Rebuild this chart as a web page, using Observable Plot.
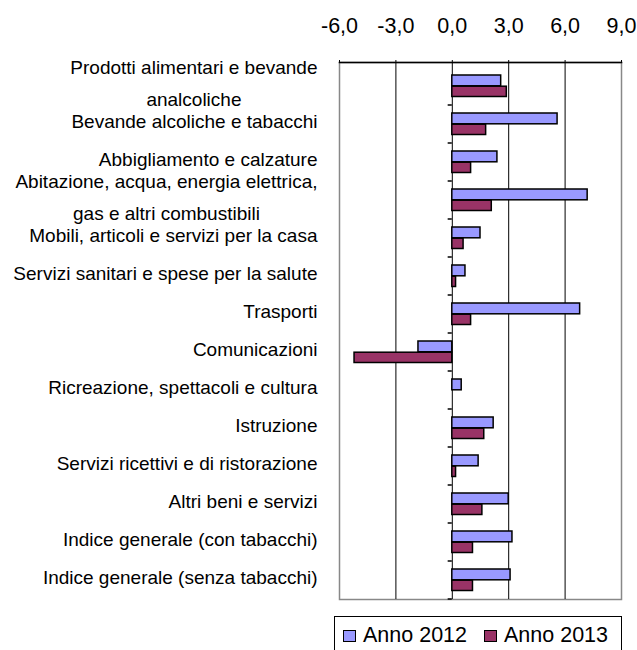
<!DOCTYPE html>
<html>
<head>
<meta charset="utf-8">
<script src="https://cdn.jsdelivr.net/npm/d3@7"></script>
<script src="https://cdn.jsdelivr.net/npm/@observablehq/plot@0.6"></script>
<style>
  html, body { margin: 0; padding: 0; background: white; }
  #wrap { position: relative; width: 637px; height: 650px; overflow: hidden; font-family: "Liberation Sans", Arial, sans-serif; }
  #legend { position: absolute; left: 334px; top: 616px; width: 288px; height: 40px; border: 1px solid #000; box-sizing: border-box; background: white; }
  .item { position: absolute; top: 6px; display: flex; align-items: center; font-size: 21.5px; color: #000; }
  .sw { width: 11px; height: 10px; border: 1.5px solid #000; margin-right: 7px; }
</style>
</head>
<body>
<div id="wrap"><div id="chart"></div><div id="legend"></div></div>
<script>
const categories = [
  "Prodotti alimentari e bevande analcoliche",
  "Bevande alcoliche e tabacchi",
  "Abbigliamento e calzature",
  "Abitazione, acqua, energia elettrica, gas e altri combustibili",
  "Mobili, articoli e servizi per la casa",
  "Servizi sanitari e spese per la salute",
  "Trasporti",
  "Comunicazioni",
  "Ricreazione, spettacoli e cultura",
  "Istruzione",
  "Servizi ricettivi e di ristorazione",
  "Altri beni e servizi",
  "Indice generale (con tabacchi)",
  "Indice generale (senza tabacchi)"
];
const labels = [
  "Prodotti alimentari e bevande\nanalcoliche",
  "Bevande alcoliche e tabacchi",
  "Abbigliamento e calzature",
  "Abitazione, acqua, energia elettrica,\ngas e altri combustibili",
  "Mobili, articoli e servizi per la casa",
  "Servizi sanitari e spese per la salute",
  "Trasporti",
  "Comunicazioni",
  "Ricreazione, spettacoli e cultura",
  "Istruzione",
  "Servizi ricettivi e di ristorazione",
  "Altri beni e servizi",
  "Indice generale (con tabacchi)",
  "Indice generale (senza tabacchi)"
];
const anno2012 = [2.6, 5.6, 2.4, 7.2, 1.5, 0.7, 6.8, -1.8, 0.5, 2.2, 1.4, 3.0, 3.2, 3.1];
const anno2013 = [2.9, 1.8, 1.0, 2.1, 0.6, 0.2, 1.0, -5.2, 0.0, 1.7, 0.2, 1.6, 1.1, 1.1];
const xTicks = [-6, -3, 0, 3, 6, 9];
const gridTicks = [-3, 0, 3, 6];
const seriesNames = ["Anno 2012", "Anno 2013"];
const seriesColors = ["#9999FF", "#993366"];

const rows = categories.map((c, i) => ({cat: c, label: labels[i], v2012: anno2012[i], v2013: anno2013[i]}));

const chart = Plot.plot({
  width: 637,
  height: 650,
  marginTop: 62,
  marginBottom: 51,
  marginLeft: 339,
  marginRight: 16,
  style: {fontFamily: "'Liberation Sans', Arial, sans-serif", fontSize: "19px", background: "white", color: "black"},
  x: {domain: [-6, 9]},
  y: {domain: categories, padding: 0, axis: null},
  marks: [
    Plot.frame({stroke: "#888", strokeWidth: 1.5}),
    Plot.ruleX(gridTicks, {stroke: "#000", strokeWidth: 1}),
    Plot.frame({anchor: "top", stroke: "#000", strokeWidth: 1.5}),
    Plot.ruleY(categories, {y: d => d, x1: -0.22, x2: 0, dy: 20.5, stroke: "#000", strokeWidth: 1.5}),
    Plot.axisX(xTicks, {anchor: "top", tickFormat: d => d.toFixed(1).replace(".", ","), tickSize: 3, tickPadding: 27, fontSize: 21.5, label: null, stroke: "#000"}),
    Plot.barX(rows, {y: "cat", x: "v2012", fill: seriesColors[0], stroke: "#000", strokeWidth: 1.5, insetTop: 10, insetBottom: 17.2}),
    Plot.barX(rows, {y: "cat", x: "v2013", fill: seriesColors[1], stroke: "#000", strokeWidth: 1.5, insetTop: 21.2, insetBottom: 6.5}),
    Plot.text(rows, {y: "cat", text: "label", frameAnchor: "left", dx: -22, dy: -5, textAnchor: "end", lineHeight: 1.72, fontSize: 19, fill: "#000"})
  ]
});
document.getElementById("chart").appendChild(chart);

// center the lines of multi-line labels as a block (right edge kept)
chart.querySelectorAll("text").forEach(t => {
  const spans = t.querySelectorAll("tspan");
  if (spans.length > 1) {
    const b = t.getBBox();
    const cx = b.x + b.width / 2;
    t.setAttribute("text-anchor", "middle");
    spans.forEach(s => s.setAttribute("x", cx));
  }
});

// legend
const legend = document.getElementById("legend");
const lefts = [8, 149];
seriesNames.forEach((name, i) => {
  const item = document.createElement("div");
  item.className = "item";
  item.style.left = lefts[i] + "px";
  const sw = document.createElement("div");
  sw.className = "sw";
  sw.style.background = seriesColors[i];
  item.appendChild(sw);
  item.appendChild(document.createTextNode(name));
  legend.appendChild(item);
});
</script>
</body>
</html>
